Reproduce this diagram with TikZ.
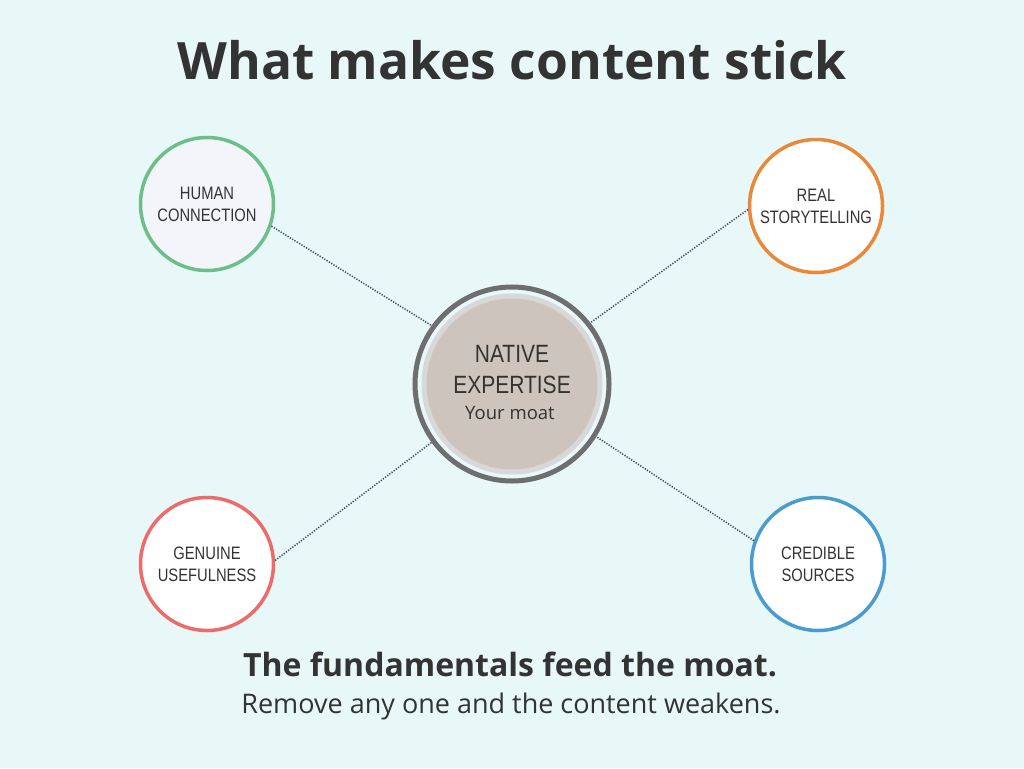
\documentclass[tikz,border=0pt]{standalone}
\usepackage{fontspec}
\setmainfont{Open Sans}
\newfontfamily\narrowfont[FakeStretch=0.82]{Liberation Sans}
\newfontfamily\cnarrow[FakeStretch=0.84]{Liberation Sans}
\definecolor{bg}{HTML}{E8F7F8}
\definecolor{txt}{HTML}{333333}
\definecolor{cgreen}{HTML}{6DBF8A}
\definecolor{corange}{HTML}{E8893A}
\definecolor{cred}{HTML}{EC6B6B}
\definecolor{cblue}{HTML}{4A9CCF}
\definecolor{lav}{HTML}{F3F5FB}
\definecolor{ringdark}{HTML}{6E6E6E}
\definecolor{ringlight}{HTML}{D8D8D8}
\definecolor{core}{HTML}{CDC5BD}
\definecolor{dotline}{HTML}{34495A}
\tikzset{
  pillar/.style={circle, line width=3.5pt, minimum size=133pt, inner sep=0pt, fill=white,
    font=\narrowfont\fontsize{18}{22}\selectfont, text=txt, align=center},
  link/.style={dotline, line width=1.5pt, dash pattern=on 1.2pt off 1.5pt},
}
\begin{document}
\begin{tikzpicture}[x=1pt,y=-1pt]
\useasboundingbox (0,0) rectangle (1024,768);
\fill[bg] (0,0) rectangle (1024,768);
\node[font=\bfseries\fontsize{51.5}{60}\selectfont, text=txt] (title) at (512,60) {What makes content stick};

\node[circle, draw=ringdark, line width=5pt, fill=bg, minimum size=194pt, inner sep=0pt] (c) at (512,384) {};
\node[circle, draw=ringlight, line width=5pt, fill=core, minimum size=176pt, inner sep=0pt] (ci) at (512,384) {};
\node[font=\cnarrow\fontsize{25}{31}\selectfont, text=txt, align=center] (ct) at (512,370) {NATIVE\\EXPERTISE};
\node[font=\fontsize{18.5}{22}\selectfont, text=txt] (cs) at (510,413) {Your moat};

\node[pillar, draw=cgreen, fill=lav] (h) at (207,204) {HUMAN\\CONNECTION};
\node[pillar, draw=corange] (s) at (816,206) {REAL\\STORYTELLING};
\node[pillar, draw=cred] (g) at (207,564) {GENUINE\\USEFULNESS};
\node[pillar, draw=cblue] (r) at (818,564) {CREDIBLE\\SOURCES};

\draw[link] (h.-19) -- (c.144);
\draw[link] (s.183) -- (c.38);
\draw[link] (g.3) -- (c.216);
\draw[link] (r.160) -- (c.-32);

\node[font=\bfseries\fontsize{32}{38}\selectfont, text=txt] (b1) at (510,664) {The fundamentals feed the moat.};
\node[font=\fontsize{27}{32}\selectfont, text=txt] (b2) at (511,706) {Remove any one and the content weakens.};
\end{tikzpicture}
\end{document}
